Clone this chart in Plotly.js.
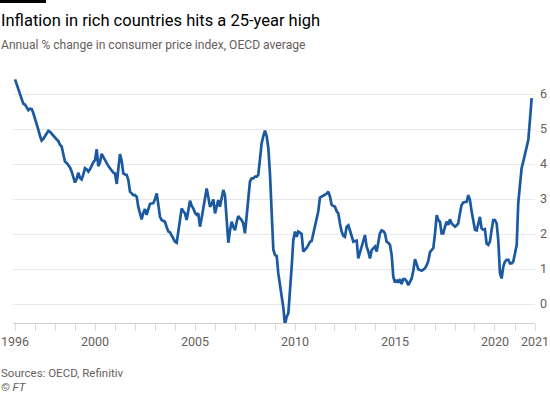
<!DOCTYPE html>
<html><head><meta charset="utf-8">
<script src="https://cdn.plot.ly/plotly-3.0.1.min.js"></script>
<style>html,body{margin:0;padding:0;background:#fff;}#wrap{position:relative;width:550px;height:393px;}#chart{width:550px;height:393px;}#bar{position:absolute;left:0;top:0;width:46px;height:3px;background:#000;z-index:5;}</style>
</head><body><div id="wrap"><div id="chart"></div><div id="bar"></div></div>
<script>
// Monthly OECD CPI inflation (annual % change), Jan 1996 - Nov 2021
const startYear = 1996;
const y1996 = [6.42, 6.28, 6.18, 6.02, 5.85, 5.72, 5.70, 5.60, 5.54, 5.58, 5.57, 5.45];
const y1997 = [5.30, 5.16, 4.98, 4.80, 4.67, 4.72, 4.80, 4.88, 4.95, 4.92, 4.86, 4.80];
const y1998 = [4.73, 4.70, 4.66, 4.55, 4.50, 4.26, 4.07, 4.03, 3.97, 3.90, 3.78, 3.62];
const y1999 = [3.47, 3.58, 3.75, 3.60, 3.56, 3.70, 3.88, 3.85, 3.78, 3.85, 3.97, 4.05];
const y2000 = [4.11, 4.42, 3.94, 4.05, 4.29, 4.20, 4.10, 4.00, 3.94, 3.88, 3.80, 3.75];
const y2001 = [3.73, 3.43, 3.85, 4.28, 4.10, 3.73, 3.70, 3.69, 3.54, 3.21, 3.16, 3.11];
const y2002 = [3.11, 3.06, 2.78, 2.55, 2.42, 2.60, 2.71, 2.55, 2.70, 2.86, 2.87, 2.88];
const y2003 = [3.00, 3.16, 2.85, 2.50, 2.40, 2.38, 2.35, 2.20, 2.07, 2.05, 1.97, 1.88];
const y2004 = [1.78, 1.75, 2.10, 2.50, 2.73, 2.65, 2.59, 2.40, 2.70, 2.95, 2.80, 2.73];
const y2005 = [2.60, 2.55, 2.59, 2.21, 2.45, 2.78, 3.00, 3.30, 3.05, 2.78, 2.85, 2.99];
const y2006 = [2.59, 2.80, 2.97, 2.78, 3.05, 3.26, 3.11, 2.50, 1.75, 2.10, 2.35, 2.20];
const y2007 = [2.11, 2.35, 2.51, 2.45, 2.40, 2.30, 2.02, 2.50, 2.97, 3.50, 3.59, 3.59];
const y2008 = [3.64, 3.64, 3.69, 4.11, 4.59, 4.80, 4.95, 4.80, 4.45, 3.70, 2.40, 1.55];
const y2009 = [1.40, 1.37, 0.88, 0.55, 0.10, -0.10, -0.60, -0.36, -0.27, 0.30, 1.07, 1.83];
const y2010 = [2.07, 1.92, 2.07, 2.04, 2.00, 1.50, 1.54, 1.60, 1.68, 1.78, 1.80, 2.02];
const y2011 = [2.15, 2.40, 2.64, 3.04, 3.07, 3.10, 3.11, 3.15, 3.21, 3.07, 2.83, 2.80];
const y2012 = [2.78, 2.65, 2.59, 2.30, 2.07, 1.95, 1.92, 2.21, 2.25, 2.10, 1.92, 1.78];
const y2013 = [1.80, 1.81, 1.30, 1.45, 1.59, 1.80, 1.97, 1.64, 1.50, 1.30, 1.54, 1.60];
const y2014 = [1.64, 1.50, 1.75, 2.02, 2.10, 2.08, 2.02, 1.78, 1.75, 1.69, 1.40, 0.78];
const y2015 = [0.61, 0.69, 0.61, 0.71, 0.57, 0.71, 0.71, 0.65, 0.54, 0.65, 0.73, 0.95];
const y2016 = [1.28, 1.14, 0.99, 0.97, 0.95, 0.98, 1.02, 1.10, 1.24, 1.48, 1.55, 1.60];
const y2017 = [2.02, 2.54, 2.40, 2.35, 2.02, 2.02, 2.20, 2.35, 2.26, 2.42, 2.30, 2.25];
const y2018 = [2.21, 2.25, 2.30, 2.59, 2.83, 2.90, 2.91, 2.92, 3.11, 2.97, 2.64, 2.40];
const y2019 = [2.12, 2.10, 2.30, 2.49, 2.16, 2.12, 2.14, 1.73, 1.69, 1.78, 2.12, 2.40];
const y2020 = [2.40, 2.30, 1.83, 0.88, 0.73, 1.07, 1.21, 1.26, 1.26, 1.16, 1.16, 1.22];
const y2021 = [1.45, 1.69, 2.88, 3.45, 3.88, 4.07, 4.26, 4.42, 4.69, 5.26, 5.88];
const yearly = [y1996,y1997,y1998,y1999,y2000,y2001,y2002,y2003,y2004,y2005,y2006,y2007,y2008,
                y2009,y2010,y2011,y2012,y2013,y2014,y2015,y2016,y2017,y2018,y2019,y2020,y2021];

const yTickVals = [0, 1, 2, 3, 4, 5, 6];
const xTickDates = ['1996-01-01','2000-01-01','2005-01-01','2010-01-01','2015-01-01','2020-01-01','2022-01-01'];
const xTickLabels = ['1996','2000','2005','2010','2015','2020','2021'];

const titleText = 'Inflation in rich countries hits a 25-year high';
const subtitleText = 'Annual % change in consumer price index, OECD average';
const sourceText = 'Sources: OECD, Refinitiv';
const creditText = '<i>© FT</i>';

const dates = [], values = [];
yearly.forEach((arr, i) => arr.forEach((v, m) => {
  dates.push((startYear + i) + '-' + String(m + 1).padStart(2, '0') + '-01');
  values.push(v);
}));

const W = 550, H = 393;
const M = {l: 13, r: 15, t: 77, b: 70};
const plotW = W - M.l - M.r, plotH = H - M.t - M.b;
const px = x => (x - M.l) / plotW;
const py = y => (H - M.b - y) / plotH;

const FONT = 'Roboto, "Noto Sans", sans-serif';
const GREY = '#66605c';

const trace = {
  x: dates, y: values, type: 'scatter', mode: 'lines',
  line: {color: '#1b5aa0', width: 2.7, shape: 'linear'},
  cliponaxis: false, hoverinfo: 'skip'
};

const layout = {
  width: W, height: H, margin: M,
  paper_bgcolor: '#ffffff', plot_bgcolor: '#ffffff',
  showlegend: false,
  font: {family: FONT, color: GREY, size: 12},
  xaxis: {
    type: 'date', range: ['1995-11-25', '2022-01-01'],
    tickmode: 'array', tickvals: xTickDates, ticktext: xTickLabels,
    ticks: 'outside', ticklen: 7, tickcolor: '#d9d9d9', tickwidth: 1,
    minor: {ticks: 'outside', ticklen: 7, tickcolor: '#d9d9d9', dtick: 'M12', tick0: '1996-01-01', showgrid: false},
    showgrid: false, zeroline: false,
    showline: true, linecolor: '#cfcfcf', linewidth: 1,
    tickfont: {family: FONT, size: 12.5, color: GREY},
    fixedrange: true
  },
  yaxis: {
    side: 'right', range: [-0.543, 6.486],
    tickmode: 'array', tickvals: yTickVals,
    showgrid: true, gridcolor: '#e8e8e8', gridwidth: 1,
    zeroline: false, showline: false, ticks: '',
    ticklabelstandoff: 4,
    tickfont: {family: FONT, size: 12.5, color: GREY},
    fixedrange: true
  },
  annotations: [
    {text: titleText, xref: 'paper', yref: 'paper', x: px(-1), y: py(20), xanchor: 'left', yanchor: 'middle',
     showarrow: false, font: {family: FONT, size: 16.5, color: '#000000'}},
    {text: subtitleText, xref: 'paper', yref: 'paper', x: px(-1), y: py(45), xanchor: 'left', yanchor: 'middle',
     showarrow: false, font: {family: FONT, size: 12.1, color: GREY}},
    {text: sourceText, xref: 'paper', yref: 'paper', x: px(-1), y: py(373), xanchor: 'left', yanchor: 'middle',
     showarrow: false, font: {family: FONT, size: 11.5, color: GREY}},
    {text: creditText, xref: 'paper', yref: 'paper', x: px(-1), y: py(387), xanchor: 'left', yanchor: 'middle',
     showarrow: false, font: {family: FONT, size: 11.5, color: GREY}}
  ]
};

Plotly.newPlot('chart', [trace], layout, {displayModeBar: false, staticPlot: true});
</script></body></html>
